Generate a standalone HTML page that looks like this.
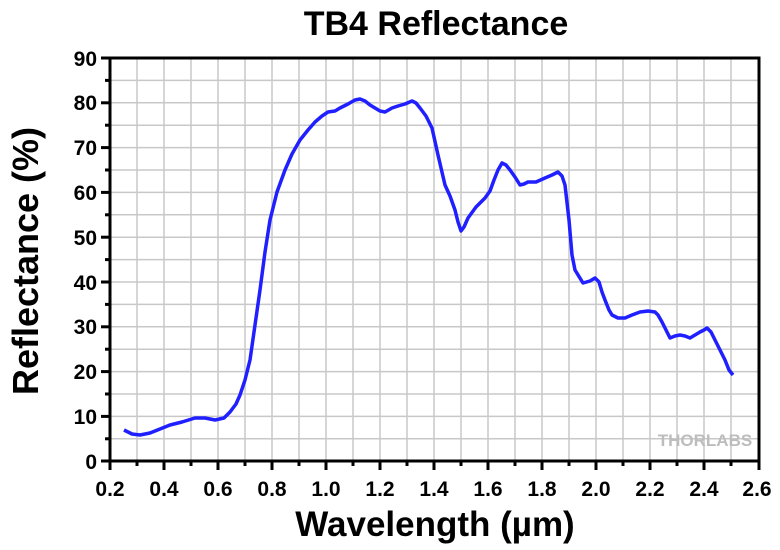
<!DOCTYPE html>
<html><head><meta charset="utf-8"><style>
body{margin:0;background:#fff}
text{font-family:"Liberation Sans",Arial,sans-serif;font-weight:bold;fill:#000}
</style></head><body>
<svg width="780" height="545" viewBox="0 0 780 545" xmlns="http://www.w3.org/2000/svg">
<rect width="780" height="545" fill="#fff"/>
<g stroke="#c8c8c8" stroke-width="1.5">
<line x1="137" y1="58" x2="137" y2="461"/><line x1="164" y1="58" x2="164" y2="461"/><line x1="191" y1="58" x2="191" y2="461"/><line x1="218" y1="58" x2="218" y2="461"/><line x1="245" y1="58" x2="245" y2="461"/><line x1="272" y1="58" x2="272" y2="461"/><line x1="299" y1="58" x2="299" y2="461"/><line x1="326" y1="58" x2="326" y2="461"/><line x1="353" y1="58" x2="353" y2="461"/><line x1="380" y1="58" x2="380" y2="461"/><line x1="407" y1="58" x2="407" y2="461"/><line x1="434" y1="58" x2="434" y2="461"/><line x1="461" y1="58" x2="461" y2="461"/><line x1="488" y1="58" x2="488" y2="461"/><line x1="515" y1="58" x2="515" y2="461"/><line x1="542" y1="58" x2="542" y2="461"/><line x1="569" y1="58" x2="569" y2="461"/><line x1="596" y1="58" x2="596" y2="461"/><line x1="623" y1="58" x2="623" y2="461"/><line x1="650" y1="58" x2="650" y2="461"/><line x1="677" y1="58" x2="677" y2="461"/><line x1="704" y1="58" x2="704" y2="461"/><line x1="731" y1="58" x2="731" y2="461"/>
<line x1="110" y1="80.4" x2="759" y2="80.4"/><line x1="110" y1="102.8" x2="759" y2="102.8"/><line x1="110" y1="125.2" x2="759" y2="125.2"/><line x1="110" y1="147.6" x2="759" y2="147.6"/><line x1="110" y1="170" x2="759" y2="170"/><line x1="110" y1="192.4" x2="759" y2="192.4"/><line x1="110" y1="214.8" x2="759" y2="214.8"/><line x1="110" y1="237.2" x2="759" y2="237.2"/><line x1="110" y1="259.6" x2="759" y2="259.6"/><line x1="110" y1="282" x2="759" y2="282"/><line x1="110" y1="304.4" x2="759" y2="304.4"/><line x1="110" y1="326.8" x2="759" y2="326.8"/><line x1="110" y1="349.2" x2="759" y2="349.2"/><line x1="110" y1="371.6" x2="759" y2="371.6"/><line x1="110" y1="394" x2="759" y2="394"/><line x1="110" y1="416.4" x2="759" y2="416.4"/><line x1="110" y1="438.8" x2="759" y2="438.8"/>
</g>
<text x="705" y="446" font-size="17" style="fill:#bdbdbd;font-weight:bold" text-anchor="middle">THORLABS</text>
<polyline fill="none" stroke="#1f1fff" stroke-width="3.5" stroke-linejoin="round" points="124,430 132,434 140,435 150,433 160,429 170,425 182,422 195,418 205,418 215,420 224,418 230,412 236,404 240,395 245,380 250,360 255,325 260,290 265,252 270,220 277,192 285,170 292,154 300,140 308,130 315,122 322,116 328,112 335,111 340,108 348,104 355,100 360,99 365,101 370,105 375,108 380,111 385,112 392,108 398,106 405,104 412,101 416,103 420,108 426,116 432,128 438,155 445,185 450,196 455,210 458,222 461,231 464,227 468,218 476,207 485,198 490,191 494,180 498,170 502,163 506,165 510,170 515,177 520,185 524,184 528,182 536,182 545,178 552,175 558,172 562,176 565,185 569,220 572,255 575,270 583,283 590,281 595,278 599,282 602,292 605,300 609,310 612,315 618,318 625,318 632,315 640,312 648,311 655,312 658,315 662,322 666,330 670,338 675,336 680,335 685,336 690,338 695,335 700,332 704,330 707,328 711,332 715,340 720,350 725,360 729,370 733,375"/>
<rect x="110" y="58" width="649" height="403" fill="none" stroke="#000" stroke-width="3"/>
<g stroke="#000" stroke-width="3">
<line x1="110" y1="461" x2="110" y2="470"/><line x1="164" y1="461" x2="164" y2="470"/><line x1="218" y1="461" x2="218" y2="470"/><line x1="272" y1="461" x2="272" y2="470"/><line x1="326" y1="461" x2="326" y2="470"/><line x1="380" y1="461" x2="380" y2="470"/><line x1="434" y1="461" x2="434" y2="470"/><line x1="488" y1="461" x2="488" y2="470"/><line x1="542" y1="461" x2="542" y2="470"/><line x1="596" y1="461" x2="596" y2="470"/><line x1="650" y1="461" x2="650" y2="470"/><line x1="704" y1="461" x2="704" y2="470"/><line x1="759" y1="461" x2="759" y2="470"/>
<line x1="137" y1="461" x2="137" y2="466"/><line x1="191" y1="461" x2="191" y2="466"/><line x1="245" y1="461" x2="245" y2="466"/><line x1="299" y1="461" x2="299" y2="466"/><line x1="353" y1="461" x2="353" y2="466"/><line x1="407" y1="461" x2="407" y2="466"/><line x1="461" y1="461" x2="461" y2="466"/><line x1="515" y1="461" x2="515" y2="466"/><line x1="569" y1="461" x2="569" y2="466"/><line x1="623" y1="461" x2="623" y2="466"/><line x1="677" y1="461" x2="677" y2="466"/><line x1="731" y1="461" x2="731" y2="466"/>
<line x1="101" y1="58" x2="110" y2="58"/><line x1="101" y1="102.8" x2="110" y2="102.8"/><line x1="101" y1="147.6" x2="110" y2="147.6"/><line x1="101" y1="192.4" x2="110" y2="192.4"/><line x1="101" y1="237.2" x2="110" y2="237.2"/><line x1="101" y1="282" x2="110" y2="282"/><line x1="101" y1="326.8" x2="110" y2="326.8"/><line x1="101" y1="371.6" x2="110" y2="371.6"/><line x1="101" y1="416.4" x2="110" y2="416.4"/><line x1="101" y1="461" x2="110" y2="461"/>
<line x1="105" y1="80.4" x2="110" y2="80.4"/><line x1="105" y1="125.2" x2="110" y2="125.2"/><line x1="105" y1="170" x2="110" y2="170"/><line x1="105" y1="214.8" x2="110" y2="214.8"/><line x1="105" y1="259.6" x2="110" y2="259.6"/><line x1="105" y1="304.4" x2="110" y2="304.4"/><line x1="105" y1="349.2" x2="110" y2="349.2"/><line x1="105" y1="394" x2="110" y2="394"/><line x1="105" y1="438.8" x2="110" y2="438.8"/>
</g>
<g font-size="21" text-anchor="end">
<text x="97" y="66">90</text><text x="97" y="110">80</text><text x="97" y="155">70</text><text x="97" y="200">60</text><text x="97" y="245">50</text><text x="97" y="290">40</text><text x="97" y="334">30</text><text x="97" y="379">20</text><text x="97" y="424">10</text><text x="97" y="469">0</text>
</g>
<g font-size="21" text-anchor="middle">
<text x="110" y="496">0.2</text><text x="164" y="496">0.4</text><text x="218" y="496">0.6</text><text x="272" y="496">0.8</text><text x="326" y="496">1.0</text><text x="380" y="496">1.2</text><text x="434" y="496">1.4</text><text x="488" y="496">1.6</text><text x="542" y="496">1.8</text><text x="596" y="496">2.0</text><text x="650" y="496">2.2</text><text x="704" y="496">2.4</text><text x="757" y="496">2.6</text>
</g>
<text x="436" y="35" font-size="34" text-anchor="middle">TB4 Reflectance</text>
<text x="435" y="536" font-size="35" text-anchor="middle">Wavelength (µm)</text>
<text x="0" y="0" font-size="36" text-anchor="middle" transform="translate(38,261) rotate(-90)">Reflectance (%)</text>
</svg>
</body></html>
